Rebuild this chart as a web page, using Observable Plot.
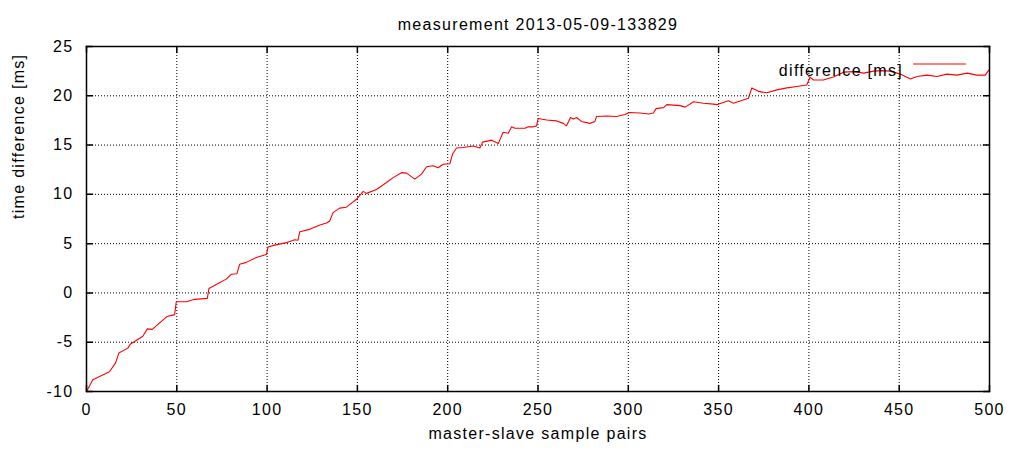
<!DOCTYPE html>
<html><head><meta charset="utf-8">
<script src="https://cdn.jsdelivr.net/npm/d3@7"></script>
<script src="https://cdn.jsdelivr.net/npm/@observablehq/plot@0.6"></script>
<style>body{margin:0;background:#fff} svg{display:block}</style>
</head><body><div id="chart"></div>
<script>
const titleText = ["measurement 2013-05-09-133829"];
const xLabel = ["master-slave sample pairs"];
const yLabel = ["time difference [ms]"];
const legendLabels = ["difference [ms]"];
const xTicks = [0, 50, 100, 150, 200, 250, 300, 350, 400, 450, 500];
const yTicks = [-10, -5, 0, 5, 10, 15, 20, 25];

const sampleX = [0, 3.5, 12.7, 16.1, 17.9, 22.9, 24.2, 31.2, 33.6, 36.4, 44.5, 48.8, 49.7, 55.2, 59.9, 66.9, 67.8, 72.8, 77.4, 80.2, 83.3, 84.8, 88.5, 94, 99.6, 100.5, 104.2, 110.7, 115.3, 117.1, 118.1, 123.6, 129.2, 132.9, 134.7, 136.5, 140.2, 143.9, 149.5, 153.2, 155, 160.6, 166.1, 169.8, 174.4, 177.2, 181.8, 185.5, 188.3, 191.9, 194.7, 197.5, 201.2, 202.7, 204.9, 208.6, 214.1, 217.8, 219.3, 224.3, 228, 230.7, 233.5, 235.4, 237.2, 242.8, 244.6, 247.4, 249.2, 250.1, 254.8, 260.3, 264, 265.8, 268, 269.5, 271.3, 274.1, 278.7, 281.5, 282.4, 288, 293.5, 298.2, 300.6, 306.5, 311.2, 313.9, 315.4, 319.5, 321.3, 328.7, 331.5, 336.1, 341.6, 347.2, 349, 355.4, 358.2, 366.5, 368.4, 372, 376.7, 382.2, 387.8, 393.3, 398.8, 400.7, 402.5, 408, 413.5, 419.2, 424.7, 430.3, 435.8, 440.4, 445, 450.6, 456.2, 459.9, 465.4, 470.9, 476.5, 482, 487.6, 493.1, 497.7, 499.6];
const diffMs = [-10, -8.8, -8.0, -7.1, -6.1, -5.6, -5.2, -4.4, -3.65, -3.7, -2.4, -2.2, -0.9, -0.9, -0.65, -0.55, 0.45, 0.95, 1.4, 1.9, 1.95, 2.9, 3.1, 3.6, 3.9, 4.65, 4.85, 5.1, 5.4, 5.35, 6.2, 6.45, 6.9, 7.1, 7.3, 8.15, 8.6, 8.7, 9.5, 10.3, 10.1, 10.5, 11.2, 11.7, 12.2, 12.15, 11.55, 12.05, 12.8, 12.9, 12.7, 13.05, 13.1, 14.1, 14.7, 14.75, 14.9, 14.7, 15.3, 15.5, 15.15, 16.3, 16.2, 16.85, 16.7, 16.7, 16.85, 16.85, 16.95, 17.7, 17.55, 17.45, 17.2, 16.95, 17.8, 17.65, 17.8, 17.4, 17.2, 17.4, 17.9, 17.95, 17.9, 18.1, 18.3, 18.25, 18.15, 18.25, 18.7, 18.8, 19.1, 19.0, 18.85, 19.4, 19.25, 19.15, 19.1, 19.5, 19.25, 19.75, 20.8, 20.45, 20.3, 20.6, 20.8, 20.95, 21.1, 21.9, 21.6, 21.6, 21.9, 22.4, 22.45, 22.3, 22.5, 22.55, 22.5, 22.2, 21.7, 21.95, 22.1, 21.95, 22.2, 22.1, 22.3, 22.1, 22.1, 22.6];

const tickShape = {draw(ctx, l) { ctx.moveTo(0, 0); ctx.lineTo(0, -l); }};
const tickOpts = {length: 6, anchor: "start", shape: tickShape, stroke: "black", strokeWidth: 1.5};
const fs = 16;

const chart = Plot.plot({
  width: 1012,
  height: 452,
  marginLeft: 86,
  marginRight: 23,
  marginTop: 46,
  marginBottom: 61,
  style: {fontFamily: "'Liberation Sans', Arial, sans-serif", fontSize: fs + "px", letterSpacing: "1.3px", color: "black", background: "white"},
  x: {domain: [0, 500]},
  y: {domain: [-10, 25]},
  marks: [
    Plot.gridX(xTicks, {stroke: "black", strokeOpacity: 1, strokeWidth: 1, strokeDasharray: "1,2"}),
    Plot.gridY(yTicks, {stroke: "black", strokeOpacity: 1, strokeWidth: 1, strokeDasharray: "1,2"}),
    Plot.axisX(xTicks, {tickSize: 0, tickPadding: 12, fontSize: fs, label: null, tickFormat: d => String(d)}),
    Plot.axisY(yTicks, {tickSize: 0, tickPadding: 13, fontSize: fs, label: null, tickFormat: d => String(d)}),
    Plot.vector(xTicks, {...tickOpts, x: d => d, frameAnchor: "bottom", rotate: 0}),
    Plot.vector(xTicks, {...tickOpts, x: d => d, frameAnchor: "top", rotate: 180}),
    Plot.vector(yTicks, {...tickOpts, y: d => d, frameAnchor: "left", rotate: 90}),
    Plot.vector(yTicks, {...tickOpts, y: d => d, frameAnchor: "right", rotate: -90}),
    Plot.line(diffMs, {x: sampleX, y: diffMs, stroke: "red", strokeWidth: 1.1}),
    Plot.vector(legendLabels, {frameAnchor: "top-right", dx: -24, dy: 17.5, length: 52, rotate: -90, anchor: "start", shape: tickShape, stroke: "red", strokeWidth: 1}),
    Plot.text(legendLabels, {text: d => d, frameAnchor: "top-right", dx: -86.5, dy: 18, textAnchor: "end", fontSize: fs, fill: "black"}),
    Plot.text(titleText, {text: d => d, frameAnchor: "top", dy: -27.5, fontSize: fs, fill: "black"}),
    Plot.text(xLabel, {text: d => d, frameAnchor: "bottom", dy: 47, fontSize: fs, fill: "black"}),
    Plot.text(yLabel, {text: d => d, frameAnchor: "left", dx: -67.5, rotate: -90, fontSize: fs, fill: "black"}),
    Plot.frame({stroke: "black", strokeWidth: 1.5})
  ]
});
document.getElementById("chart").appendChild(chart);
</script>
</body></html>
